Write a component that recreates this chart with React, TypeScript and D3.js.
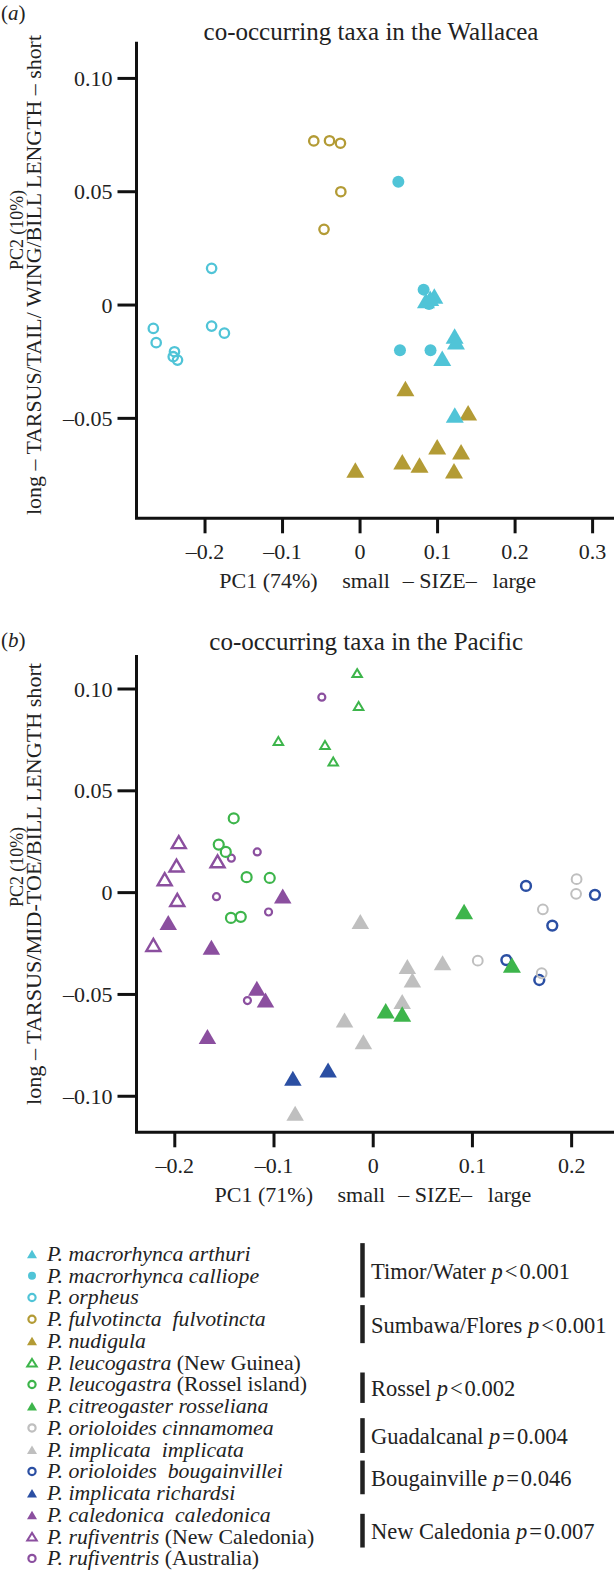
import React from 'react';
import * as d3 from 'd3';

// ---------- DATA (PC1, PC2) ----------
// Panel (a) Wallacea
const arthuriA = [[0.0958, 0.004], [0.085, 0.002], [0.0905, 0.003], [0.122, -0.0137], [0.1237, -0.0162], [0.106, -0.0235], [0.1222, -0.0485]];
const calliopeA = [[0.0494, 0.0544], [0.082, 0.0068], [0.089, 0.0005], [0.0515, -0.0199], [0.0909, -0.0199]];
const orpheusA = [[-0.1915, 0.0162], [-0.2667, -0.0103], [-0.263, -0.0166], [-0.2394, -0.0206], [-0.241, -0.0228], [-0.2355, -0.0243], [-0.1915, -0.0093], [-0.175, -0.0124]];
const fulvotinctaA = [[-0.0597, 0.0724], [-0.0394, 0.0725], [-0.0253, 0.0714], [-0.0248, 0.05], [-0.0465, 0.0334]];
const nudigulaA = [[0.0585, -0.0368], [0.1394, -0.0475], [0.0995, -0.0625], [0.1303, -0.0647], [0.0545, -0.0691], [0.0767, -0.0706], [-0.0061, -0.0728], [0.1212, -0.0731]];

// Panel (b) Pacific
const leucoNewGuineaB = [[-0.0162, 0.1078], [-0.0147, 0.0917], [-0.0956, 0.0745], [-0.0486, 0.0725], [-0.0403, 0.0644]];
const leucoRosselB = [[-0.1406, 0.0365], [-0.1557, 0.0236], [-0.1486, 0.02], [-0.1276, 0.0076], [-0.1043, 0.0072], [-0.1434, -0.0124], [-0.1335, -0.0119]];
const citreogasterB = [[0.0916, -0.0093], [0.1398, -0.0355], [0.0126, -0.058], [0.0292, -0.0596]];
const cinnamomeaB = [[0.205, 0.0066], [0.2045, -0.0006], [0.171, -0.0082], [0.1054, -0.0334], [0.1698, -0.0396]];
const implicataB = [[-0.013, -0.0142], [0.0344, -0.0363], [0.0699, -0.0344], [0.0395, -0.0429], [0.0292, -0.0535], [-0.0289, -0.0625], [-0.0099, -0.0732], [-0.0787, -0.1084]];
const bougainvilleiB = [[0.154, 0.0033], [0.2235, -0.0011], [0.1805, -0.0162], [0.1342, -0.0331], [0.1674, -0.0429]];
const richardsiB = [[-0.081, -0.0912], [-0.0455, -0.0871]];
const caledonicaB = [[-0.0912, -0.0016], [-0.2066, -0.0147], [-0.1631, -0.0268], [-0.1173, -0.047], [-0.1086, -0.0527], [-0.1671, -0.0707]];
const rufiNewCaledoniaB = [[-0.196, 0.0248], [-0.1983, 0.0133], [-0.2102, 0.0066], [-0.1975, -0.0036], [-0.1569, 0.0154], [-0.2216, -0.0257]];
const rufiAustraliaB = [[-0.0518, 0.096], [-0.1169, 0.02], [-0.143, 0.0169], [-0.158, -0.002], [-0.1055, -0.0095], [-0.1268, -0.053]];

// ticks
const xTicksA = [-0.2, -0.1, 0, 0.1, 0.2, 0.3];
const xTickLabelsA = ['\u20130.2', '\u20130.1', '0', '0.1', '0.2', '0.3'];
const yTicksA = [0.1, 0.05, 0, -0.05];
const yTickLabelsA = ['0.10', '0.05', '0', '\u20130.05'];
const xTicksB = [-0.2, -0.1, 0, 0.1, 0.2];
const xTickLabelsB = ['\u20130.2', '\u20130.1', '0', '0.1', '0.2'];
const yTicksB = [0.1, 0.05, 0, -0.05, -0.1];
const yTickLabelsB = ['0.10', '0.05', '0', '\u20130.05', '\u20130.10'];

// legend
const legendKeys = ['arthuri', 'calliope', 'orpheus', 'fulvotincta', 'nudigula', 'leucoNG', 'leucoRossel', 'citreogaster', 'cinnamomea', 'implicata', 'bougainvillei', 'richardsi', 'caledonica', 'rufiNC', 'rufiAus'];
const legendItalic = ['P. macrorhynca arthuri', 'P. macrorhynca calliope', 'P. orpheus', 'P. fulvotincta  fulvotincta', 'P. nudigula', 'P. leucogastra', 'P. leucogastra', 'P. citreogaster rosseliana', 'P. orioloides cinnamomea', 'P. implicata  implicata', 'P. orioloides  bougainvillei', 'P. implicata richardsi', 'P. caledonica  caledonica', 'P. rufiventris', 'P. rufiventris'];
const legendRoman = ['', '', '', '', '', ' (New Guinea)', ' (Rossel island)', '', '', '', '', '', '', ' (New Caledonia)', ' (Australia)'];

const groupNames = ['Timor/Water', 'Sumbawa/Flores', 'Rossel', 'Guadalcanal', 'Bougainville', 'New Caledonia'];
const groupOps = ['<', '<', '<', '=', '=', '='];
const groupP = ['0.001', '0.001', '0.002', '0.004', '0.046', '0.007'];
const groupRows = [[-0.5, 2.0], [2.35, 4.1], [5.45, 6.85], [7.55, 9.15], [9.5, 11.05], [11.95, 13.5]];

// ---------- STYLE ----------
const CYAN = '#50c4d7';
const GOLD = '#b39b35';
const GREEN = '#3db54b';
const GRAY = '#bfbfbf';
const BLUE = '#2b4fa3';
const PURPLE = '#8b4f9f';
const FONT = '"Liberation Serif", "Times New Roman", Times, serif';

type Mk = { color: string; shape: 'tri' | 'circ'; fill: boolean; w?: number; h?: number; r?: number; sw?: number };
const styles: Record<string, Mk> = {
  arthuri: { color: CYAN, shape: 'tri', fill: true, w: 18, h: 15.5 },
  calliope: { color: CYAN, shape: 'circ', fill: true, r: 6 },
  orpheus: { color: CYAN, shape: 'circ', fill: false, r: 4.7, sw: 2.3 },
  fulvotincta: { color: GOLD, shape: 'circ', fill: false, r: 4.7, sw: 2.3 },
  nudigula: { color: GOLD, shape: 'tri', fill: true, w: 18, h: 15.5 },
  leucoNG: { color: GREEN, shape: 'tri', fill: false, w: 9.5, h: 8, sw: 2 },
  leucoRossel: { color: GREEN, shape: 'circ', fill: false, r: 5, sw: 2.2 },
  citreogaster: { color: GREEN, shape: 'tri', fill: true, w: 18, h: 15.5 },
  cinnamomea: { color: GRAY, shape: 'circ', fill: false, r: 4.9, sw: 2 },
  implicata: { color: GRAY, shape: 'tri', fill: true, w: 17.5, h: 15 },
  bougainvillei: { color: BLUE, shape: 'circ', fill: false, r: 4.9, sw: 2.5 },
  richardsi: { color: BLUE, shape: 'tri', fill: true, w: 17.5, h: 15 },
  caledonica: { color: PURPLE, shape: 'tri', fill: true, w: 17.5, h: 15 },
  rufiNC: { color: PURPLE, shape: 'tri', fill: false, w: 14, h: 12, sw: 2.4 },
  rufiAus: { color: PURPLE, shape: 'circ', fill: false, r: 3.5, sw: 2.2 },
};

const seriesA: [string, number[][]][] = [
  ['nudigula', nudigulaA], ['fulvotincta', fulvotinctaA], ['orpheus', orpheusA], ['calliope', calliopeA], ['arthuri', arthuriA],
];
const seriesB: [string, number[][]][] = [
  ['rufiAus', rufiAustraliaB], ['rufiNC', rufiNewCaledoniaB], ['caledonica', caledonicaB], ['richardsi', richardsiB],
  ['bougainvillei', bougainvilleiB], ['implicata', implicataB], ['cinnamomea', cinnamomeaB], ['citreogaster', citreogasterB],
  ['leucoRossel', leucoRosselB], ['leucoNG', leucoNewGuineaB],
];

const triangle = (cx: number, cy: number, w: number, h: number) => {
  const p = d3.path();
  p.moveTo(cx, cy - h / 2);
  p.lineTo(cx + w / 2, cy + h / 2);
  p.lineTo(cx - w / 2, cy + h / 2);
  p.closePath();
  return p.toString();
};

function Marker({ k, x, y, scale = 1 }: { k: string; x: number; y: number; scale?: number }) {
  const s = styles[k];
  if (s.shape === 'tri') {
    const d = triangle(x, y, (s.w as number) * scale, (s.h as number) * scale);
    return s.fill
      ? <path d={d} fill={s.color} />
      : <path d={d} fill="none" stroke={s.color} strokeWidth={s.sw} strokeLinejoin="miter" />;
  }
  return s.fill
    ? <circle cx={x} cy={y} r={(s.r as number) * scale} fill={s.color} />
    : <circle cx={x} cy={y} r={(s.r as number) * scale} fill="none" stroke={s.color} strokeWidth={s.sw} />;
}

type PanelProps = {
  left: number; right: number; top: number; bottom: number;
  xDom: [number, number]; yDom: [number, number];
  xTicks: number[]; xLabels: string[]; yTicks: number[]; yLabels: string[];
  series: [string, number[][]][];
  title: string; titleX: number; titleY: number;
  letter: string; letterY: number;
  pc1: string; pc1X: number;
  pc2Y: number; longLabel: string; longY: number; longLen: number;
};

function Panel(p: PanelProps) {
  const x = d3.scaleLinear().domain(p.xDom).range([p.left, p.right]);
  const y = d3.scaleLinear().domain(p.yDom).range([p.bottom, p.top]);
  return (
    <g>
      <text x={1} y={p.letterY} fontFamily={FONT} fontSize={21} fill="#222">(<tspan fontStyle="italic">{p.letter}</tspan>)</text>
      <text x={p.titleX} y={p.titleY} fontFamily={FONT} fontSize={25} textAnchor="middle" fill="#222">{p.title}</text>
      {p.series.map(([k, pts]) => (
        <g key={k}>
          {pts.map((d, i) => <Marker key={i} k={k} x={x(d[0])} y={y(d[1])} />)}
        </g>
      ))}
      <path d={`M${p.left},${p.top}V${p.bottom}H${p.right}`} fill="none" stroke="#111" strokeWidth={3} />
      {p.yTicks.map((t, i) => (
        <g key={'y' + i}>
          <line x1={p.left - 19} x2={p.left} y1={y(t)} y2={y(t)} stroke="#111" strokeWidth={3} />
          <text x={p.left - 24} y={y(t) + 7.5} fontFamily={FONT} fontSize={22} textAnchor="end" fill="#222">{p.yLabels[i]}</text>
        </g>
      ))}
      {p.xTicks.map((t, i) => (
        <g key={'x' + i}>
          <line x1={x(t)} x2={x(t)} y1={p.bottom} y2={p.bottom + 15} stroke="#111" strokeWidth={3} />
          <text x={x(t)} y={p.bottom + 41} fontFamily={FONT} fontSize={22} textAnchor="middle" fill="#222">{p.xLabels[i]}</text>
        </g>
      ))}
      <text x={p.pc1X} y={p.bottom + 69.5} fontFamily={FONT} fontSize={22} fill="#222">
        {p.pc1}<tspan dx={24.5}>small</tspan><tspan dx={13}>{'\u2013 SIZE\u2013'}</tspan><tspan dx={15.7}>large</tspan>
      </text>
      <text transform={`translate(22.5,${p.pc2Y}) rotate(-90)`} fontFamily={FONT} fontSize={19} textAnchor="middle" fill="#222" textLength={80} lengthAdjust="spacingAndGlyphs">PC2 (10%)</text>
      <text transform={`translate(40.5,${p.longY}) rotate(-90)`} fontFamily={FONT} fontSize={22} textAnchor="middle" fill="#222" textLength={p.longLen} lengthAdjust="spacingAndGlyphs">{p.longLabel}</text>
    </g>
  );
}

export default function App() {
  const rowY = d3.scaleLinear().domain([0, 14]).range([1254, 1558.4]);
  return (
    <div style={{ position: 'absolute', left: 0, top: 0 }}>
      <svg width={614} height={1570} viewBox="0 0 614 1570" style={{ display: 'block', background: '#fff' }}>
        <rect width={614} height={1570} fill="#fff" />
        <Panel left={136.5} right={614} top={41.7} bottom={518.3}
          xDom={[-0.2884, 0.3276]} yDom={[-0.0941, 0.1162]}
          xTicks={xTicksA} xLabels={xTickLabelsA} yTicks={yTicksA} yLabels={yTickLabelsA}
          series={seriesA} title="co-occurring taxa in the Wallacea" titleX={371} titleY={40}
          letter="a" letterY={20} pc1="PC1 (74%)" pc1X={219.3}
          pc2Y={230} longLabel={'long \u2013 TARSUS/TAIL/ WING/BILL LENGTH \u2013 short'} longY={275} longLen={480} />
        <Panel left={136.5} right={614} top={655} bottom={1132.3}
          xDom={[-0.2386, 0.2427]} yDom={[-0.1177, 0.1167]}
          xTicks={xTicksB} xLabels={xTickLabelsB} yTicks={yTicksB} yLabels={yTickLabelsB}
          series={seriesB} title="co-occurring taxa in the Pacific" titleX={366.2} titleY={650}
          letter="b" letterY={647} pc1="PC1 (71%)" pc1X={214.6}
          pc2Y={867} longLabel={'long \u2013 TARSUS/MID-TOE/BILL LENGTH short'} longY={884} longLen={442} />
        {/* legend */}
        {legendKeys.map((k, i) => {
          const s = styles[k];
          const cy = rowY(i);
          let mark;
          if (s.shape === 'tri') {
            const d = s.fill ? triangle(32, cy, 10, 8.5) : triangle(32, cy, 9.5, 7.5);
            mark = s.fill ? <path d={d} fill={s.color} /> : <path d={d} fill="none" stroke={s.color} strokeWidth={2} />;
          } else {
            mark = s.fill ? <circle cx={32} cy={cy} r={4} fill={s.color} /> : <circle cx={32} cy={cy} r={3.6} fill="none" stroke={s.color} strokeWidth={2.2} />;
          }
          return (
            <g key={k}>
              {mark}
              <text x={47} y={cy + 7} fontFamily={FONT} fontSize={21.8} fill="#222" style={{ whiteSpace: 'pre' }}>
                <tspan fontStyle="italic">{legendItalic[i]}</tspan>{legendRoman[i]}
              </text>
            </g>
          );
        })}
        {groupNames.map((g, i) => {
          const y0 = rowY(groupRows[i][0]);
          const y1 = rowY(groupRows[i][1]);
          const mid = (y0 + y1) / 2;
          return (
            <g key={g}>
              <line x1={362.5} x2={362.5} y1={y0} y2={y1} stroke="#222" strokeWidth={4.5} />
              <text x={371} y={mid + 8.5} fontFamily={FONT} fontSize={22.5} fill="#222">
                {g + ' '}<tspan fontStyle="italic">p</tspan><tspan dx={2}>{groupOps[i]}</tspan><tspan dx={2}>{groupP[i]}</tspan>
              </text>
            </g>
          );
        })}
      </svg>
    </div>
  );
}
